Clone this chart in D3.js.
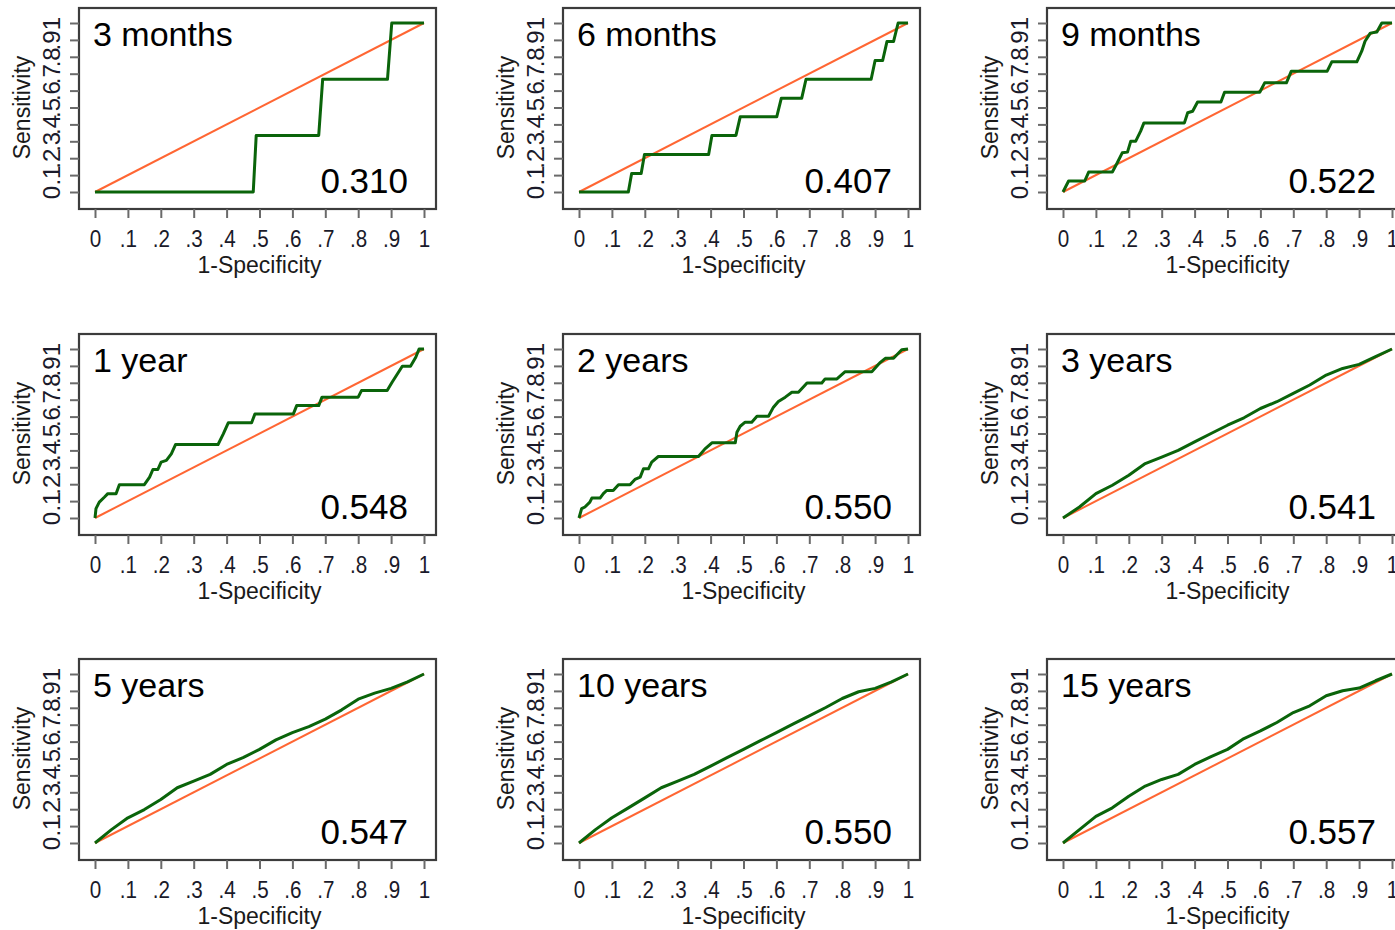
<!DOCTYPE html>
<html>
<head>
<meta charset="utf-8">
<script src="https://cdn.jsdelivr.net/npm/d3@7"></script>
<style>
  html, body { margin: 0; padding: 0; background: #fff; }
  svg { display: block; font-family: "Liberation Sans", Arial, sans-serif; }
</style>
</head>
<body>
<svg id="chart" width="1395" height="930"></svg>
<script>
// panel titles and AUC values, left to right, top to bottom
const titles = ["3 months", "6 months", "9 months", "1 year", "2 years", "3 years", "5 years", "10 years", "15 years"];
const aucs = ["0.310", "0.407", "0.522", "0.548", "0.550", "0.541", "0.547", "0.550", "0.557"];
const ticks = [0, 0.1, 0.2, 0.3, 0.4, 0.5, 0.6, 0.7, 0.8, 0.9, 1];

// step-shaped curves (few events)
const fpr3m = [0, 0.481, 0.49, 0.68, 0.692, 0.889, 0.902, 1];
const tpr3m = [0, 0, 0.335, 0.335, 0.667, 0.667, 1, 1];

const fpr6m = [0, 0.15, 0.16, 0.189, 0.199, 0.394, 0.404, 0.477, 0.49, 0.601, 0.615, 0.677, 0.69, 0.888, 0.9, 0.923, 0.936, 0.956, 0.97, 1];
const tpr6m = [0, 0, 0.11, 0.11, 0.222, 0.222, 0.335, 0.335, 0.445, 0.445, 0.555, 0.555, 0.667, 0.667, 0.778, 0.778, 0.89, 0.89, 1, 1];

const fpr9m = [0, 0.017, 0.066, 0.078, 0.15, 0.165, 0.18, 0.196, 0.206, 0.221, 0.236, 0.246, 0.369, 0.379, 0.394, 0.409, 0.48, 0.491, 0.598, 0.613, 0.679, 0.694, 0.803, 0.817, 0.893, 0.908, 0.918, 0.934, 0.954, 0.969, 1];
const tpr9m = [0, 0.065, 0.065, 0.118, 0.118, 0.173, 0.232, 0.236, 0.301, 0.301, 0.36, 0.409, 0.409, 0.469, 0.478, 0.533, 0.533, 0.59, 0.59, 0.646, 0.646, 0.715, 0.715, 0.77, 0.77, 0.833, 0.892, 0.94, 0.947, 1, 1];

const fpr1y = [0, 0.003, 0.013, 0.029, 0.039, 0.064, 0.074, 0.15, 0.166, 0.176, 0.191, 0.201, 0.217, 0.232, 0.245, 0.374, 0.39, 0.405, 0.476, 0.486, 0.603, 0.613, 0.68, 0.69, 0.8, 0.81, 0.888, 0.903, 0.919, 0.934, 0.959, 0.975, 0.985, 1];
const tpr1y = [0, 0.055, 0.094, 0.124, 0.144, 0.144, 0.197, 0.197, 0.242, 0.287, 0.287, 0.331, 0.341, 0.38, 0.435, 0.435, 0.498, 0.563, 0.563, 0.616, 0.616, 0.665, 0.665, 0.715, 0.715, 0.754, 0.754, 0.803, 0.852, 0.898, 0.898, 0.951, 1, 1];

const fpr2y = [0, 0.008, 0.018, 0.033, 0.039, 0.064, 0.074, 0.084, 0.104, 0.12, 0.155, 0.17, 0.186, 0.196, 0.211, 0.221, 0.241, 0.363, 0.383, 0.404, 0.475, 0.48, 0.49, 0.505, 0.525, 0.541, 0.576, 0.591, 0.606, 0.627, 0.647, 0.667, 0.693, 0.738, 0.748, 0.784, 0.809, 0.89, 0.916, 0.931, 0.956, 0.981, 1];
const tpr2y = [0, 0.055, 0.065, 0.094, 0.118, 0.118, 0.144, 0.163, 0.163, 0.197, 0.197, 0.228, 0.242, 0.291, 0.291, 0.331, 0.364, 0.364, 0.409, 0.445, 0.445, 0.508, 0.543, 0.567, 0.567, 0.602, 0.602, 0.656, 0.689, 0.715, 0.744, 0.744, 0.799, 0.799, 0.823, 0.823, 0.866, 0.866, 0.921, 0.945, 0.945, 0.996, 1];

// smooth curves (many events), read every 0.05
const fprGrid = [0, 0.05, 0.1, 0.15, 0.2, 0.25, 0.3, 0.35, 0.4, 0.45, 0.5, 0.55, 0.6, 0.65, 0.7, 0.75, 0.8, 0.85, 0.9, 0.95, 1];
const tpr3y = [0, 0.065, 0.144, 0.194, 0.253, 0.322, 0.36, 0.4, 0.45, 0.5, 0.549, 0.593, 0.648, 0.688, 0.737, 0.787, 0.846, 0.885, 0.909, 0.955, 1];
const tpr5y = [0, 0.079, 0.149, 0.198, 0.257, 0.327, 0.366, 0.406, 0.465, 0.505, 0.554, 0.61, 0.653, 0.689, 0.733, 0.788, 0.851, 0.887, 0.915, 0.954, 1];
const tpr10y = [0, 0.079, 0.149, 0.208, 0.267, 0.327, 0.366, 0.406, 0.455, 0.505, 0.554, 0.604, 0.653, 0.703, 0.752, 0.802, 0.855, 0.895, 0.915, 0.954, 1];
const tpr15y = [0, 0.079, 0.158, 0.208, 0.277, 0.337, 0.376, 0.406, 0.465, 0.511, 0.554, 0.618, 0.663, 0.713, 0.772, 0.812, 0.871, 0.901, 0.917, 0.96, 1];

const curves = [
  [fpr3m, tpr3m], [fpr6m, tpr6m], [fpr9m, tpr9m],
  [fpr1y, tpr1y], [fpr2y, tpr2y], [fprGrid, tpr3y],
  [fprGrid, tpr5y], [fprGrid, tpr10y], [fprGrid, tpr15y]
];

const svg = d3.select("#chart");
const colLeft = [79, 563, 1047];
const rowTop = [8, 334, 659];
const frameW = 357, frameH = 201;

const tickFmt = d => (d === 0 ? "0" : d === 1 ? "1" : d3.format(".1f")(d).slice(1));

titles.forEach((title, i) => {
  const fl = colLeft[i % 3];
  const ft = rowTop[Math.floor(i / 3)];
  const g = svg.append("g").attr("class", "panel");

  const x = d3.scaleLinear().domain([0, 1]).range([fl + 16, fl + 345]);
  const y = d3.scaleLinear().domain([0, 1]).range([ft + 184, ft + 15]);

  // frame
  g.append("rect")
    .attr("x", fl).attr("y", ft)
    .attr("width", frameW).attr("height", frameH)
    .attr("fill", "#fff")
    .attr("stroke", "#3c3c3c")
    .attr("stroke-width", 2.2);

  // x axis
  const xa = g.append("g")
    .attr("transform", `translate(0,${ft + frameH})`)
    .call(d3.axisBottom(x).tickValues(ticks).tickFormat(tickFmt).tickSize(9));
  xa.select(".domain").remove();
  xa.selectAll(".tick line").attr("stroke", "#6a6a6a").attr("stroke-width", 2);
  xa.selectAll(".tick text")
    .attr("y", 38).attr("dy", 0)
    .attr("transform", "scale(0.86,1)")
    .attr("fill", "#1a1a2a")
    .style("font-size", "24px");

  // y axis
  const ya = g.append("g")
    .attr("transform", `translate(${fl},0)`)
    .call(d3.axisLeft(y).tickValues(ticks).tickFormat(tickFmt).tickSize(9));
  ya.select(".domain").remove();
  ya.selectAll(".tick line").attr("stroke", "#6a6a6a").attr("stroke-width", 2);
  ya.selectAll(".tick text")
    .attr("x", 0).attr("y", -19).attr("dy", 0)
    .attr("transform", "rotate(-90)")
    .attr("text-anchor", "middle")
    .attr("fill", "#1a1a2a")
    .style("font-size", "24px");

  // axis titles
  g.append("text")
    .attr("x", (x(0) + x(1)) / 2).attr("y", ft + frameH + 64)
    .attr("text-anchor", "middle")
    .attr("fill", "#1a1a1a")
    .style("font-size", "23px")
    .text("1-Specificity");
  g.append("text")
    .attr("transform", `translate(${fl - 49},${(y(0) + y(1)) / 2}) rotate(-90)`)
    .attr("text-anchor", "middle")
    .attr("fill", "#1a1a1a")
    .style("font-size", "23px")
    .text("Sensitivity");

  // reference diagonal
  g.append("line")
    .attr("x1", x(0)).attr("y1", y(0))
    .attr("x2", x(1)).attr("y2", y(1))
    .attr("stroke", "#ff6633")
    .attr("stroke-width", 2);

  // ROC curve
  const [fx, fy] = curves[i];
  const pts = fx.map((v, k) => [v, fy[k]]);
  g.append("path")
    .datum(pts)
    .attr("fill", "none")
    .attr("stroke", "#0a640a")
    .attr("stroke-width", 3)
    .attr("stroke-linejoin", "round")
    .attr("d", d3.line().x(d => x(d[0])).y(d => y(d[1])));

  // panel title and AUC
  g.append("text")
    .attr("x", fl + 14).attr("y", ft + 38)
    .attr("fill", "#000")
    .style("font-size", "34px")
    .text(title);
  g.append("text")
    .attr("x", fl + frameW - 28).attr("y", ft + frameH - 16)
    .attr("text-anchor", "end")
    .attr("fill", "#000")
    .style("font-size", "35px")
    .text(aucs[i]);
});
</script>
</body>
</html>
